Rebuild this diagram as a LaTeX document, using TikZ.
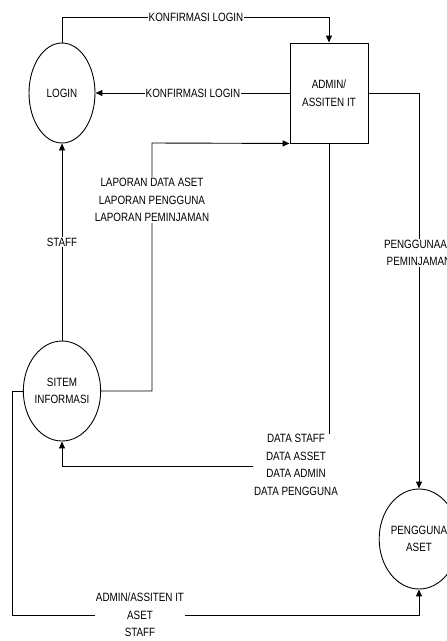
\documentclass[tikz,border=0pt]{standalone}
\usepackage{fontspec}
\setmainfont[FakeStretch=0.82]{Liberation Sans}
\usetikzlibrary{shapes.geometric,arrows.meta}
\begin{document}
\begin{tikzpicture}[x=1pt,y=-1pt,
  every node/.style={font=\fontsize{12}{17.5}\selectfont, align=center},
  proc/.style={ellipse, draw, line width=0.9pt, minimum width=66pt, minimum height=100pt, inner sep=0pt},
  ent/.style={rectangle, draw, line width=0.9pt, minimum width=78pt, minimum height=100pt, inner sep=0pt},
  flow/.style={line width=0.9pt, -{Triangle[length=7pt,width=6pt]}},
  lbl/.style={fill=white, inner sep=1pt}]
  \useasboundingbox (0,0) rectangle (447,641);

  % processes and entity
  \node[proc] (login) at (62,93) {LOGIN};
  \node[ent] (admin) at (329,93) {ADMIN/\\ASSITEN IT};
  \node[proc] (sitem) at (62,391) {SITEM\\INFORMASI};
  \node[proc] (pengguna) at (419,539) {PENGGUNA\\ASET};

  % bend points
  \coordinate (top) at (0,17);
  \coordinate (c1) at (152,143);
  \coordinate (c2) at (329,466);
  \coordinate (c3) at (12,615);

  % data flows
  \draw[flow] (login.north) |- (admin.north |- top) -- (admin.north);
  \draw[flow] (admin.west) -- (login.east);
  \draw[flow] (sitem.east) -| (c1) -- (admin.south west);
  \draw[flow] (sitem.north) -- (login.south);
  \draw[flow] (admin.south) -- (c2) -| (sitem.south);
  \draw[flow] (admin.east) -| (pengguna.north);
  \draw[flow] (sitem.west) -| (c3) -| (pengguna.south);

  % flow labels
  \node[lbl] (l1) at (196,17) {KONFIRMASI LOGIN};
  \node[lbl] (l2) at (193,93) {KONFIRMASI LOGIN};
  \node[lbl] (l3) at (152,200) {LAPORAN DATA ASET\\LAPORAN PENGGUNA\\LAPORAN PEMINJAMAN};
  \node[lbl] (l4) at (62,242) {STAFF};
  \node[lbl] (l5) at (296,465) {DATA STAFF\\DATA ASSET\\DATA ADMIN\\DATA PENGGUNA};
  \node[lbl] (l6) at (419,253) {PENGGUNAAN\\PEMINJAMAN};
  \node[lbl] (l7) at (140,615) {ADMIN/ASSITEN IT\\ASET\\STAFF};
\end{tikzpicture}
\end{document}
